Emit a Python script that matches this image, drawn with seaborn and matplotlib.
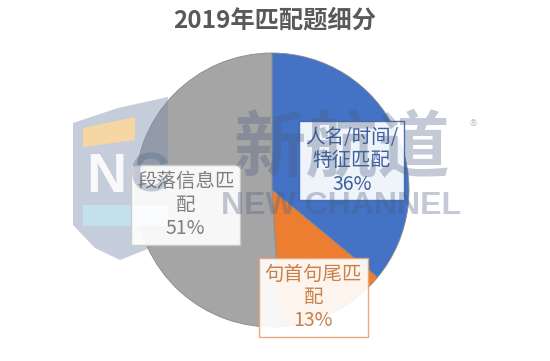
import matplotlib
matplotlib.use("Agg")
import matplotlib.pyplot as plt
from matplotlib.patches import Polygon
import seaborn as sns
import numpy as np

categories = ["人名/时间/\n特征匹配", "句首句尾匹\n配", "段落信息匹\n配"]
values = [36, 13, 51]
title = "2019年匹配题细分"

sns.set_theme(style="white")
plt.rcParams["font.family"] = ["Noto Sans CJK SC", "DejaVu Sans"]

colors = ["#4472C4", "#ED7D31", "#A5A5A5"]
text_colors = ["#3D5F9E", "#C98048", "#7F7F7F"]
edge_colors = ["#3E66B3", "#E8A274", "#C9C9C9"]

W, H = 550, 361
fig = plt.figure(figsize=(W / 100, H / 100), dpi=100)
ax = fig.add_axes([0, 0, 1, 1])

cx, cy, R = 272, H - 190, 137
wedges, _ = ax.pie(values, colors=colors, startangle=90, counterclock=False,
                   center=(cx, cy), radius=R, frame=True,
                   wedgeprops=dict(linewidth=0.6, edgecolor="#8a8a8a"))
ax.set_xlim(0, W)
ax.set_ylim(0, H)
ax.set_aspect("equal")
ax.axis("off")

# label placement: (radial fraction, angle tweak in degrees)
place = [(0.62, -5), (0.84, -6), (0.64, 8)]
for w, cat, v, tc, ec, (rf, da) in zip(wedges, categories, values, text_colors, edge_colors, place):
    ang = np.deg2rad((w.theta1 + w.theta2) / 2 + da)
    x = cx + rf * R * np.cos(ang)
    y = cy + rf * R * np.sin(ang)
    ax.text(x, y, f"{cat}\n{v}%", ha="center", va="center", fontsize=14,
            color=tc, linespacing=1.15, zorder=5,
            bbox=dict(boxstyle="square,pad=0.3", facecolor="white",
                      edgecolor=ec, linewidth=1.0, alpha=0.92))

# watermark (logo)
def P(pts):
    return [(px, H - py) for px, py in pts]

shield = P([(73, 123), (118, 108), (168, 97), (168, 232), (150, 248), (120, 260),
            (95, 248), (73, 225)])
ax.add_patch(Polygon(shield, closed=True, facecolor="#7F90AE", edgecolor="none",
                     alpha=0.45, zorder=4))
ax.add_patch(Polygon(P([(83, 128), (135, 117), (135, 140), (83, 147)]), closed=True,
                     facecolor="#FFD89A", edgecolor="none", alpha=0.85, zorder=4))
ax.add_patch(Polygon(P([(83, 205), (168, 205), (168, 226), (83, 226)]), closed=True,
                     facecolor="#C3E5F0", edgecolor="none", alpha=0.85, zorder=4))
ax.text(106, H - 178, "N", ha="center", va="center", fontsize=40,
        fontweight="bold", color="white", alpha=0.9, zorder=4,
        family=["Liberation Sans", "DejaVu Sans"])
ax.text(150, H - 178, "C", ha="center", va="center", fontsize=40,
        fontweight="bold", color="#4A5F80", alpha=0.3, zorder=6,
        family=["Liberation Sans", "DejaVu Sans"])

wm = "#4A5F80"
ax.text(341, H - 150, "新航道", ha="center", va="center", fontsize=52,
        fontweight="bold", color=wm, alpha=0.33, zorder=6)
ax.text(341, H - 206, "NEW CHANNEL", ha="center", va="center", fontsize=23,
        fontweight="bold", color=wm, alpha=0.33, zorder=6,
        family=["Liberation Sans", "DejaVu Sans"])
ax.text(473, H - 127, "®", ha="center", va="center", fontsize=11,
        color=wm, alpha=0.33, zorder=6)

fig.text(0.5, 1 - 21 / H, title, ha="center", va="center", fontsize=17.5,
         fontweight="bold", color="#595959")

fig.savefig("out.png", dpi=100, facecolor="white")
